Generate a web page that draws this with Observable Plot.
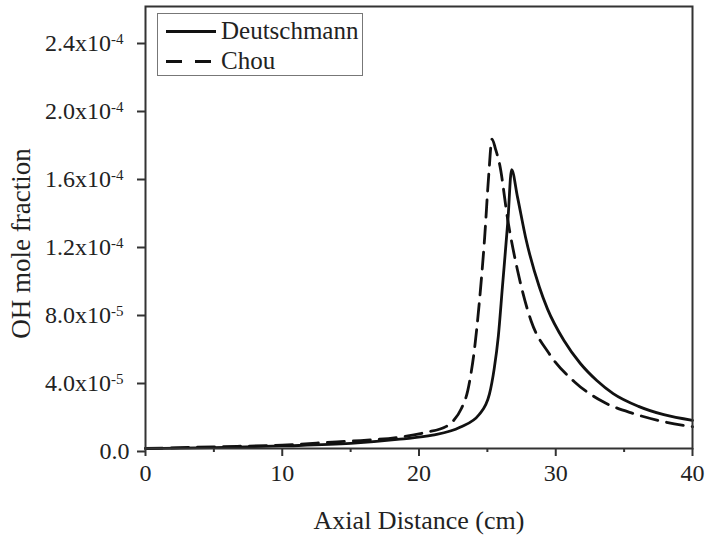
<!DOCTYPE html>
<html>
<head>
<meta charset="utf-8">
<script src="https://cdn.jsdelivr.net/npm/d3@7"></script>
<script src="https://cdn.jsdelivr.net/npm/@observablehq/plot@0.6"></script>
<style>
  body { margin: 0; background: #fff; }
  #wrap { position: relative; width: 708px; height: 538px; }
  #legend { position: absolute; left: 157px; top: 13px; }
</style>
</head>
<body>
<div id="wrap"></div>
<script>
// Deutschmann mechanism (solid)
const deutX = [0, 5, 10, 15, 18.6, 21, 23, 24.4, 25.15, 25.5, 25.8, 26.1, 26.5, 26.77, 27.2, 27.8, 28.8, 29.4, 30.6, 31.8, 33.0, 34.2, 36.05, 37.9, 40];
const deutY = [0, 0.05e-5, 0.15e-5, 0.3e-5, 0.55e-5, 0.78e-5, 1.25e-5, 2.0e-5, 3.2e-5, 4.7e-5, 6.6e-5, 9.5e-5, 13.4e-5, 16.4e-5, 14.8e-5, 12.4e-5, 9.5e-5, 8.2e-5, 6.35e-5, 5.0e-5, 4.0e-5, 3.23e-5, 2.48e-5, 1.99e-5, 1.66e-5];
// Chou mechanism (dashed)
const chouX = [0, 5, 10, 14, 16.2, 18.4, 20.5, 22, 22.5, 23.1, 23.57, 23.8, 24.05, 24.4, 24.8, 25.1, 25.34, 25.6, 25.9, 26.5, 27.2, 28.2, 29.5, 31.4, 33.5, 35.7, 38, 40];
const chouY = [0, 0.1e-5, 0.2e-5, 0.39e-5, 0.49e-5, 0.65e-5, 0.95e-5, 1.3e-5, 1.62e-5, 2.35e-5, 3.42e-5, 4.4e-5, 5.8e-5, 8.5e-5, 12.4e-5, 16.1e-5, 18.2e-5, 17.6e-5, 16.7e-5, 13.4e-5, 10.5e-5, 7.5e-5, 5.6e-5, 3.9e-5, 2.73e-5, 2.05e-5, 1.56e-5, 1.28e-5];

const xMajor = [0, 10, 20, 30, 40];
const xMinor = [5, 15, 25, 35];
const yTicks = [0, 4e-5, 8e-5, 1.2e-4, 1.6e-4, 2.0e-4, 2.4e-4];
const yTickLabels = ["0.0", "4.0x10|-5", "8.0x10|-5", "1.2x10|-4", "1.6x10|-4", "2.0x10|-4", "2.4x10|-4"];
const seriesNames = ["Deutschmann", "Chou"];
const xLabel = "Axial Distance (cm)";
const yLabel = "OH mole fraction";

const deut = deutX.map((x, i) => ({x, y: deutY[i]}));
const chou = chouX.map((x, i) => ({x, y: chouY[i]}));

const ink = "#222";
const font = "'Liberation Serif', 'Times New Roman', serif";
const chart = Plot.plot({
  width: 708,
  height: 538,
  marginLeft: 145,
  marginRight: 16,
  marginTop: 6,
  marginBottom: 90,
  x: {domain: [0, 40]},
  y: {domain: [0, 2.6e-4]},
  style: {fontFamily: font, fontSize: "24px", color: ink, background: "#fff"},
  marks: [
    Plot.line(deut, {x: "x", y: "y", curve: "monotone-x", stroke: "#111", strokeWidth: 2.8}),
    Plot.line(chou, {x: "x", y: "y", curve: "monotone-x", stroke: "#111", strokeWidth: 2.8, strokeDasharray: "17,9"}),
    Plot.frame({stroke: "#333", strokeWidth: 2}),
    Plot.axisX({ticks: xMajor, tickSize: 8, tickPadding: 7, tickFormat: d => String(d), label: null, stroke: "#333", strokeWidth: 2}),
    Plot.axisX({ticks: xMinor, tickSize: 4, tickFormat: () => "", label: null, stroke: "#333", strokeWidth: 2}),
    Plot.axisY({ticks: yTicks, tickSize: 8, tickPadding: 8, tickFormat: (d, i) => yTickLabels[i], label: null, stroke: "#333", strokeWidth: 2, dy: 3}),
    Plot.text([xLabel], {frameAnchor: "bottom", textAnchor: "middle", lineAnchor: "middle", dy: 72, fontSize: 26, fill: ink}),
    Plot.text([yLabel], {frameAnchor: "left", textAnchor: "middle", lineAnchor: "middle", rotate: -90, dx: -124, dy: 16, fontSize: 27, fill: ink})
  ]
});

// superscript exponents on y tick labels
d3.select(chart).selectAll('g[aria-label="y-axis tick label"] text').each(function() {
  const t = this.textContent;
  if (t.includes("|")) {
    const [base, exp] = t.split("|");
    const sel = d3.select(this);
    sel.text(null).attr("dx", -6);
    sel.append("tspan").text(base);
    sel.append("tspan").attr("dy", "-0.5em").attr("font-size", 15).text(exp);
  }
});

const wrap = document.getElementById("wrap");
wrap.appendChild(chart);

// legend inside plot area (top-left)
const leg = d3.select(wrap).append("svg").attr("id", "legend").attr("width", 207).attr("height", 64)
  .style("font-family", font);
leg.append("rect").attr("x", 0.5).attr("y", 0.5).attr("width", 205).attr("height", 62)
  .attr("fill", "#fff").attr("stroke", "#777").attr("stroke-width", 1);
seriesNames.forEach((name, i) => {
  const yy = 18.5 + i * 30;
  leg.append("line").attr("x1", 9).attr("x2", 59).attr("y1", yy).attr("y2", yy)
    .attr("stroke", "#111").attr("stroke-width", 2.8)
    .attr("stroke-dasharray", i === 1 ? "16,13" : null);
  leg.append("text").attr("x", 64).attr("y", yy + 7.5).attr("font-size", 25).attr("fill", ink).text(name);
});
</script>
</body>
</html>
